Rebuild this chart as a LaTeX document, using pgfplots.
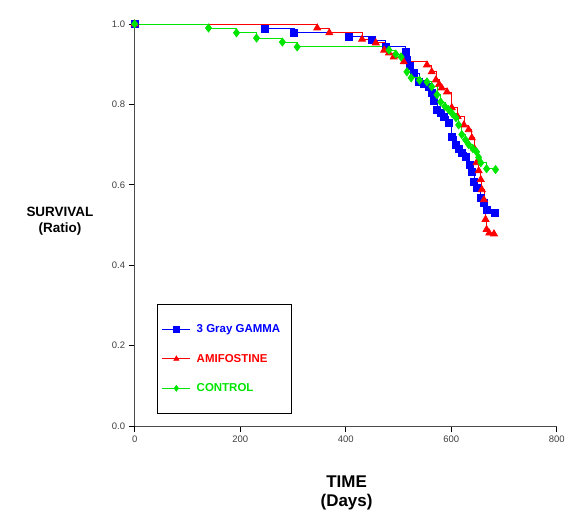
\documentclass[border=0pt]{standalone}
\usepackage{fontspec}
\setmainfont{Liberation Sans}
\usepackage{pgfplots}
\pgfplotsset{compat=1.18}

\definecolor{gblue}{RGB}{0,0,255}
\definecolor{gred}{RGB}{255,0,0}
\definecolor{ggreen}{RGB}{0,230,0}

\begin{document}
\begin{tikzpicture}
\begin{axis}[
    scale only axis,
    width=423pt,
    height=403pt,
    xmin=0, xmax=800,
    ymin=0, ymax=1.0,
    xtick={0,200,400,600,800},
    ytick={0,0.2,0.4,0.6,0.8,1.0},
    yticklabel style={/pgf/number format/.cd,fixed,fixed zerofill,precision=1},
    axis x line*=bottom,
    axis y line*=left,
    tick align=outside,
    major tick length=6pt,
    tick style={black, line width=0.8pt},
    axis line style={black!70, line width=0.8pt},
    /pgf/number format/assume math mode=true,
    tick label style={font=\fontsize{9.5}{11}\selectfont, text=black!75},
    xlabel={TIME\\(Days)},
    xlabel style={font=\bfseries\fontsize{17}{19}\selectfont, align=center,
        at={(axis description cs:0.502,-0.166)}, anchor=center},
    ylabel={SURVIVAL\\(Ratio)},
    ylabel style={font=\bfseries\fontsize{13.5}{16}\selectfont, align=center, rotate=-90,
        at={(axis description cs:-0.177,0.509)}, anchor=center},
    clip=false,
    legend cell align=left,
    legend image code/.code={\draw[mark repeat=2,mark phase=2,#1] plot coordinates {(0pt,0pt)(14pt,0pt)(28pt,0pt)};},
    legend image post style={mark size=2.8pt},
    legend style={at={(rel axis cs:0.052,0.303)}, anchor=north west, draw=black, line width=0.8pt,
        font=\bfseries\fontsize{11.5}{13}\selectfont, row sep=16pt, inner xsep=5pt, inner ysep=18pt,
        nodes={inner xsep=6pt}},
]

% 3 Gray GAMMA
\addplot[gblue, const plot, line width=0.8pt, mark=square*, mark size=3.5pt] coordinates {
    (0,1.0) (246,0.988) (302,0.978) (406,0.968) (450,0.960) (476,0.943)
    (514,0.931) (516,0.911) (522,0.895) (529,0.878) (539,0.856) (548,0.850)
    (558,0.844) (563,0.829) (568,0.808) (573,0.787) (580,0.778) (586,0.769)
    (595,0.754) (601,0.720) (609,0.700) (614,0.690) (620,0.680) (628,0.670)
    (635,0.650) (639,0.633) (643,0.608) (648,0.593) (656,0.568) (661,0.555)
    (667,0.538) (682,0.531)
};
\addlegendentry{\textcolor{gblue}{3 Gray GAMMA}}

% AMIFOSTINE
\addplot[gred, const plot, line width=0.8pt, mark=triangle*, mark size=4pt] coordinates {
    (0,1.0) (346,0.990) (369,0.978) (431,0.962) (457,0.953) (473,0.935)
    (482,0.928) (491,0.918) (510,0.906) (554,0.898) (563,0.881) (571,0.861)
    (577,0.850) (582,0.841) (592,0.831) (601,0.792) (612,0.770) (624,0.749)
    (633,0.737) (639,0.717) (644,0.690) (648,0.655) (652,0.635) (656,0.613)
    (658,0.588) (662,0.563) (665,0.514) (667,0.489) (672,0.480) (681,0.478)
};
\addlegendentry{\textcolor{gred}{AMIFOSTINE}}

% CONTROL
\addplot[ggreen, const plot, line width=0.8pt, mark=diamond*, mark size=4pt] coordinates {
    (0,1.0) (140,0.990) (193,0.978) (231,0.965) (280,0.955) (308,0.943)
    (482,0.935) (495,0.925) (505,0.918) (516,0.881) (524,0.866) (540,0.860)
    (554,0.856) (563,0.844) (573,0.824) (580,0.806) (588,0.795) (595,0.787)
    (602,0.777) (609,0.767) (614,0.749) (620,0.725) (627,0.712) (633,0.700)
    (641,0.690) (648,0.682) (652,0.668) (656,0.655) (667,0.640) (684,0.638)
};
\addlegendentry{\textcolor{ggreen}{CONTROL}}

% keep the page the size of the reference
\path (rel axis cs:-0.319,-0.2233) rectangle (rel axis cs:1.0236,1.0596);
\end{axis}
\end{tikzpicture}
\end{document}
